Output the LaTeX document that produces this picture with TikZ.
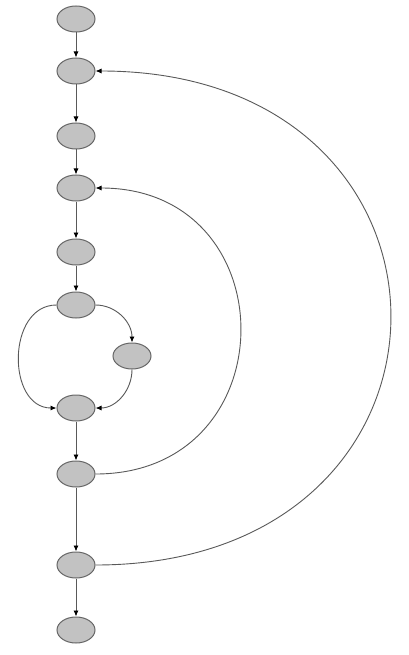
\documentclass[tikz,border=0pt]{standalone}
\usetikzlibrary{shapes.geometric,arrows.meta}
\begin{document}
\begin{tikzpicture}[x=1pt, y=-1pt, line width=0.9pt, draw=black!65, >={Latex[length=6pt,width=5pt,color=black]}, oval/.style={ellipse, draw=black!60, line width=1pt, fill=gray!48, minimum width=38pt, minimum height=26pt, inner sep=0pt}, link/.style={->, draw=black!65, line width=0.9pt}]

\useasboundingbox[fill=white] (0,0) rectangle (408,655);

\node [oval] (N1) at (76, 19){};
\node [oval] (N2) at (76, 71){};
\node [oval] (N3) at (76, 136){};
\node [oval] (N4) at (76, 188){};
\node [oval] (N5) at (76, 252){};
\node [oval] (N6) at (76, 305){};
\node [oval] (SIDE) at (132, 356){};
\node [oval] (N7) at (76, 408){};
\node [oval] (N8) at (76, 474){};
\node [oval] (N9) at (76, 565){};
\node [oval] (N10) at (76, 630){};

\draw[link] (N1) -- (N2);
\draw[link] (N2) -- (N3);
\draw[link] (N3) -- (N4);
\draw[link] (N4) -- (N5);
\draw[link] (N5) -- (N6);
\draw[link] (N6.east) to[out=0, in=90] (SIDE.north);
\draw[link] (SIDE.south) to[out=-90, in=0] (N7.east);
\draw[link] (N6.west) .. controls +(-50,0) and +(-50,0) .. (N7.west);
\draw[link] (N7) -- (N8);
\draw[link] (N8) -- (N9);
\draw[link] (N9) -- (N10);
\draw[link] (N8.east) .. controls +(193,0) and +(193,0) .. (N4.east);
\draw[link] (N9.east) .. controls +(393,0) and +(393,0) .. (N2.east);

\end{tikzpicture}
\end{document}
